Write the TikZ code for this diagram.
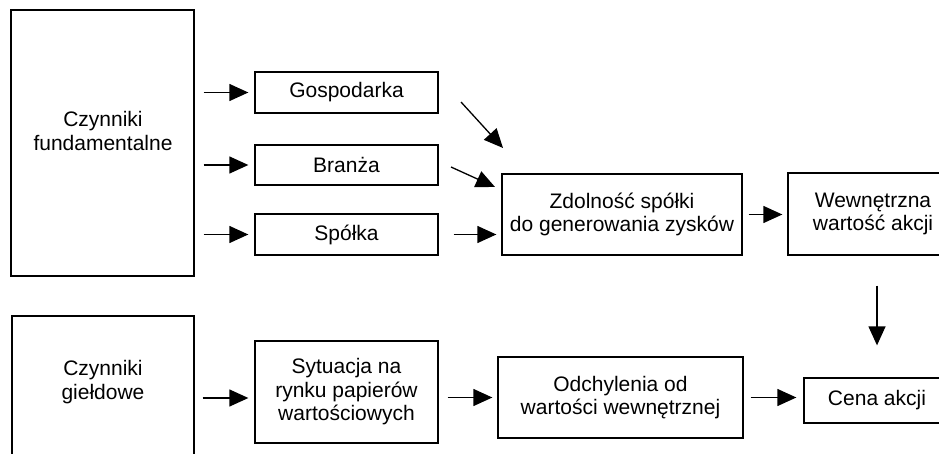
\documentclass[tikz,border=0pt]{standalone}
\usepackage{fontspec}
\setmainfont{Liberation Sans}
\usetikzlibrary{arrows.meta}
\begin{document}
\begin{tikzpicture}[x=1pt,y=-1pt,
  every node/.style={font=\fontsize{21}{23.5}\selectfont, align=center},
  box/.style={draw, line width=1.3pt, inner sep=0pt},
  txt/.style={inner sep=0pt},
  arr/.style={line width=1.3pt, -{Triangle[length=19pt,width=17pt]}}]
  \useasboundingbox (0,0) rectangle (939,454);
  \clip (0,0) rectangle (939,454);

  % upper row: fundamental factors
  \node[box, minimum width=183, minimum height=266] (fund) at (102.5,143) {};
  \node[txt] (fundT) at (103,131) {Czynniki\\fundamentalne};
  \node[box, minimum width=183, minimum height=41] (gos) at (346.5,92.5) {Gospodarka};
  \node[box, minimum width=183, minimum height=40] (bra) at (346.5,165) {Branża};
  \node[box, minimum width=183, minimum height=41] (spo) at (346.5,234.5) {Spółka};
  \node[box, minimum width=240, minimum height=81] (zdo) at (622,214.5) {Zdolność spółki\\do generowania zysków};
  \node[box, minimum width=170, minimum height=82] (wew) at (873,214) {Wewnętrzna\\wartość akcji};

  % lower row: market factors
  \node[box, minimum width=182, minimum height=164] (gie) at (103,398) {};
  \node[txt] (gieT) at (103,382) {Czynniki\\giełdowe};
  \node[box, minimum width=183, minimum height=102] (syt) at (346.5,392) {Sytuacja na\\rynku papierów\\wartościowych};
  \node[box, minimum width=245, minimum height=81] (odc) at (620.5,397.5) {Odchylenia od\\wartości wewnętrznej};
  \node[box, minimum width=146, minimum height=45] (cen) at (877,400.5) {Cena akcji};

  % free ends of the slanted arrows
  \coordinate (gosTail) at (461,102);
  \coordinate (gosTip) at (503,148);
  \coordinate (braTail) at (451,167);
  \coordinate (braTip) at (495,187);

  % connectors
  \draw[arr, shorten <=9pt, shorten >=6pt] (fund.east |- gos.west) -- (gos.west);
  \draw[arr, shorten <=9pt, shorten >=6pt] (fund.east |- bra.west) -- (bra.west);
  \draw[arr, shorten <=9pt, shorten >=6pt] (fund.east |- spo.west) -- (spo.west);
  \draw[arr] (gosTail) -- (gosTip);
  \draw[arr] (braTail) -- (braTip);
  \draw[arr, shorten <=15pt, shorten >=5pt] (spo.east) -- (zdo.west |- spo.east);
  \draw[arr, shorten <=6pt, shorten >=5pt] (zdo.east) -- (wew.west |- zdo.east);
  \draw[arr, shorten <=30pt, shorten >=32pt] (wew.south -| cen.north) -- (cen.north);
  \draw[arr, shorten <=8pt, shorten >=6pt] (gie.east) -- (syt.west |- gie.east);
  \draw[arr, shorten <=9pt, shorten >=5pt] (syt.east |- odc.west) -- (odc.west);
  \draw[arr, shorten <=7pt, shorten >=7pt] (odc.east) -- (cen.west |- odc.east);
\end{tikzpicture}
\end{document}
